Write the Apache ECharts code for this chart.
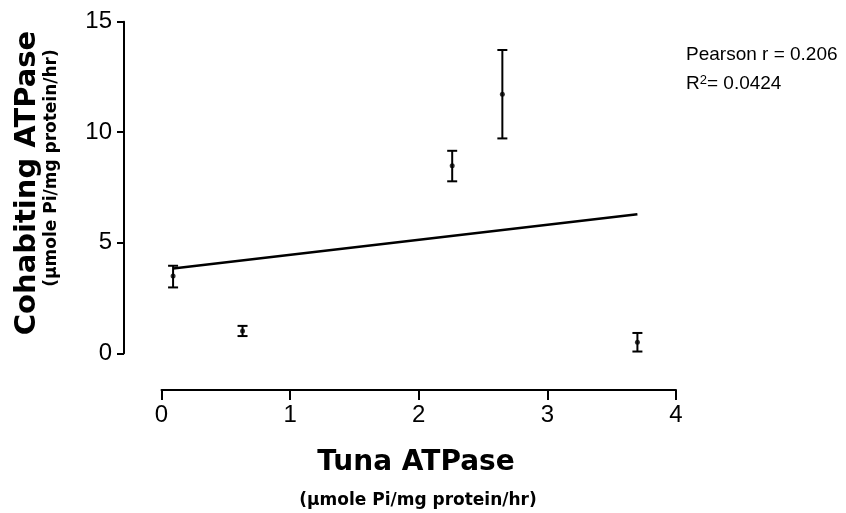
<!DOCTYPE html>
<html style="height: 100%">
<head>
	<meta charset="utf-8">
</head>
<body style="height: 100%; margin: 0; background-color: #fff;">
<div id="container" style="width: 846px; height: 513px"></div>
<script type="text/javascript" src="https://cdn.jsdelivr.net/npm/echarts@6/dist/echarts.min.js"></script>
<script type="text/javascript">
	// Tuna ATPase (x) vs cohabiting ATPase (y), mean +/- error
	var tunaX = [0.09, 0.63, 2.26, 2.65, 3.70];
	var cohabY = [3.50, 1.01, 8.48, 11.72, 0.50];
	var errLow = [2.98, 0.78, 7.78, 9.72, 0.08];
	var errHigh = [3.96, 1.24, 9.16, 13.72, 0.92];
	var xTicks = [0, 1, 2, 3, 4];
	var yTicks = [0, 5, 10, 15];
	var statLines = ['Pearson r = 0.206', '0.0424'];

	var font = 'Liberation Sans, Arial, sans-serif';
	var titleFont = 'DejaVu Sans, sans-serif';

	// least squares fit drawn across the data range
	var n = tunaX.length, mx = 0, my = 0;
	for (var i = 0; i < n; i++) { mx += tunaX[i] / n; my += cohabY[i] / n; }
	var sxy = 0, sxx = 0;
	for (var i = 0; i < n; i++) {
		sxy += (tunaX[i] - mx) * (cohabY[i] - my);
		sxx += (tunaX[i] - mx) * (tunaX[i] - mx);
	}
	var slope = sxy / sxx, icpt = my - slope * mx;
	var xMin = Math.min.apply(null, tunaX), xMax = Math.max.apply(null, tunaX);
	var fitLine = [[xMin, icpt + slope * xMin], [xMax, icpt + slope * xMax]];

	var points = tunaX.map(function(x, i) { return [x, cohabY[i]]; });
	var bars = tunaX.map(function(x, i) { return [x, errLow[i], errHigh[i]]; });

	var myChart = echarts.init(document.getElementById('container'));
	var option = {
		animation: false,
		grid: {
			left: 161.5,
			right: 170,
			top: 21.7,
			bottom: 159.7
		},
		xAxis: {
			type: 'value',
			min: xTicks[0],
			max: xTicks[xTicks.length - 1],
			interval: 1,
			offset: 36.7,
			splitLine: { show: false },
			axisLine: { onZero: false, lineStyle: { color: '#000', width: 2 } },
			axisTick: { length: 10, lineStyle: { color: '#000', width: 2 } },
			axisLabel: { color: '#000', fontSize: 24, fontFamily: font, margin: 13 }
		},
		yAxis: {
			type: 'value',
			min: yTicks[0],
			max: yTicks[yTicks.length - 1],
			interval: 5,
			offset: 37.5,
			splitLine: { show: false },
			axisLine: { onZero: false, lineStyle: { color: '#000', width: 2 } },
			axisTick: { length: 7, lineStyle: { color: '#000', width: 2 } },
			axisLabel: { color: '#000', fontSize: 24, fontFamily: font, margin: 12 }
		},
		graphic: [
			{
				type: 'text', x: 27, y: 183, rotation: Math.PI / 2,
				style: {
					text: 'Cohabiting ATPase', fill: '#000', font: 'bold 29px ' + titleFont,
					textAlign: 'center', textVerticalAlign: 'middle'
				}
			},
			{
				type: 'text', x: 52, y: 168, rotation: Math.PI / 2,
				style: {
					text: '(\u00b5mole Pi/mg protein/hr)', fill: '#000', font: 'bold 17px ' + titleFont,
					textAlign: 'center', textVerticalAlign: 'middle'
				}
			},
			{
				type: 'text', x: 416, y: 463,
				style: {
					text: 'Tuna ATPase', fill: '#000', font: 'bold 28px ' + titleFont,
					textAlign: 'center', textVerticalAlign: 'middle'
				}
			},
			{
				type: 'text', x: 418, y: 501,
				style: {
					text: '(\u00b5mole Pi/mg protein/hr)', fill: '#000', font: 'bold 17px ' + titleFont,
					textAlign: 'center', textVerticalAlign: 'middle'
				}
			},
			{
				type: 'text', x: 686, y: 55,
				style: {
					text: statLines[0], fill: '#000', font: '19px ' + font,
					textVerticalAlign: 'middle'
				}
			},
			{
				type: 'text', x: 686, y: 84,
				style: {
					text: '{n|R}{s|2}{n|= ' + statLines[1] + '}',
					textVerticalAlign: 'middle',
					rich: {
						n: { fontSize: 19, fontFamily: font, fill: '#000' },
						s: { fontSize: 13, fontFamily: font, fill: '#000', verticalAlign: 'top', padding: [0, 0, 8, 0] }
					}
				}
			}
		],
		series: [
			{
				type: 'line',
				data: fitLine,
				symbol: 'none',
				lineStyle: { color: '#000', width: 2.5 },
				z: 2
			},
			{
				type: 'custom',
				data: bars,
				renderItem: function(params, api) {
					var x = api.value(0);
					var lo = api.coord([x, api.value(1)]);
					var hi = api.coord([x, api.value(2)]);
					var half = 5;
					var st = { stroke: '#000', lineWidth: 2 };
					return {
						type: 'group',
						children: [
							{ type: 'line', shape: { x1: lo[0], y1: lo[1], x2: hi[0], y2: hi[1] }, style: st },
							{ type: 'line', shape: { x1: lo[0] - half, y1: lo[1], x2: lo[0] + half, y2: lo[1] }, style: st },
							{ type: 'line', shape: { x1: hi[0] - half, y1: hi[1], x2: hi[0] + half, y2: hi[1] }, style: st }
						]
					};
				},
				z: 3
			},
			{
				type: 'scatter',
				data: points,
				symbol: 'circle',
				symbolSize: 5,
				itemStyle: { color: '#000' },
				z: 4
			}
		]
	};
	myChart.setOption(option);
</script>
</body>
</html>
